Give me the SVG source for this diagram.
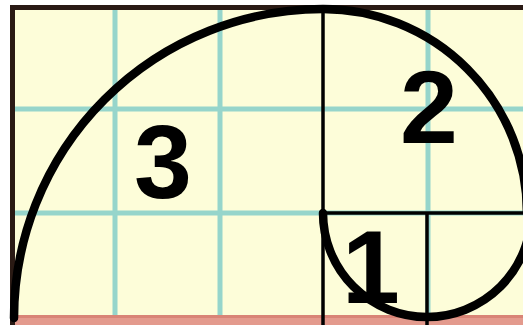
<svg xmlns="http://www.w3.org/2000/svg" width="523" height="325" viewBox="0 0 523 325">
<style>
.grid{stroke:#96d5cb;stroke-width:5;fill:none}
.box{stroke:#000;stroke-width:3.5;fill:none}
.spiral{stroke:#000;stroke-width:8.5;fill:none;stroke-linecap:round}
.num{font-family:"Liberation Sans",Arial,sans-serif;font-weight:bold;font-size:104px;fill:#000;text-anchor:middle}
</style>
<rect x="0" y="0" width="523" height="325" fill="#ffffff"/>
<rect x="10" y="5" width="513" height="320" fill="#fdfdd9"/>
<g id="grid">
<line class="grid" x1="115" y1="8" x2="115" y2="316"/>
<line class="grid" x1="220" y1="8" x2="220" y2="316"/>
<line class="grid" x1="428" y1="8" x2="428" y2="316"/>
<line class="grid" x1="12" y1="109" x2="523" y2="109"/>
<line class="grid" x1="12" y1="213" x2="523" y2="213"/>
</g>
<rect x="10" y="315" width="513" height="10" fill="#e39a8d"/>
<rect x="10" y="315" width="513" height="3" fill="#d98476"/>
<line x1="10" y1="7.5" x2="523" y2="7.5" stroke="#2a1a14" stroke-width="5"/>
<line x1="12.5" y1="5" x2="12.5" y2="325" stroke="#2a1a14" stroke-width="5"/>
<g id="square3">
<line class="box" x1="323" y1="5" x2="323" y2="325"/>
<text class="num" x="163" y="198">3</text>
</g>
<g id="square2">
<line class="box" x1="323" y1="213" x2="523" y2="213"/>
<text class="num" x="429" y="143">2</text>
</g>
<g id="square1a">
<line class="box" x1="427" y1="213" x2="427" y2="325"/>
<text class="num" x="371" y="303">1</text>
</g>
<g id="connectors">
<path class="spiral" d="M14 318 A309 309 0 0 1 323 9 A204 204 0 0 1 527 213"/>
<path class="spiral" d="M323 213 A104 104 0 0 0 531 213"/>
</g>
</svg>
